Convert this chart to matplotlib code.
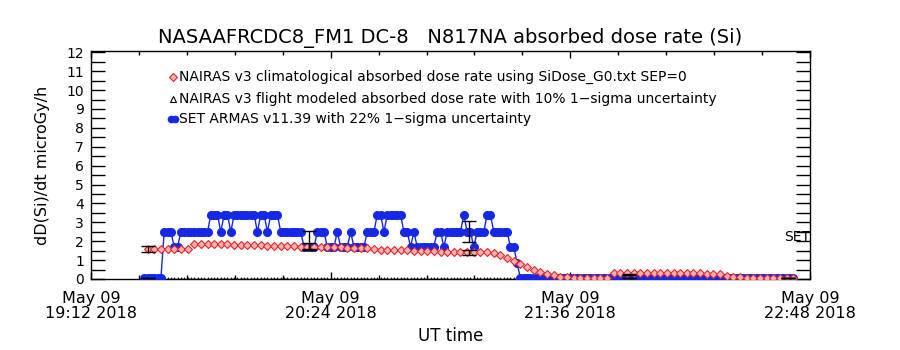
import numpy as np
import matplotlib
matplotlib.use("Agg")
import matplotlib.pyplot as plt
import matplotlib.dates as mdates
from matplotlib.ticker import FixedLocator, MultipleLocator
from datetime import datetime, timedelta

# ---------------- data (minutes after 2018-05-09 19:12 UT) ----------------
base_time = datetime(2018, 5, 9, 19, 12)

# SET ARMAS v11.39 absorbed dose rate, one value per minute starting at minute 16
set_start_min = 16
set_armas = [
    0.05, 0.05, 0.05, 0.05, 0.05, 0.05,
    2.5, 2.5, 2.5,
    1.7, 1.7,
    2.5, 2.5, 2.5, 2.5, 2.5, 2.5, 2.5, 2.5, 2.5,
    3.4, 3.4, 3.4, 2.5, 3.4, 3.4, 2.5,
    3.4, 3.4, 3.4, 3.4, 3.4, 3.4, 3.4, 2.5,
    3.4, 3.4, 2.5, 3.4, 3.4, 3.4,
    2.5, 2.5, 2.5, 2.5, 2.5, 2.5, 2.5,
    1.7, 1.7, 1.7, 1.7,
    2.5, 2.5, 2.5,
    1.7, 1.7, 1.7, 2.5, 1.7, 1.7, 1.7, 2.5,
    1.7, 1.7, 1.7, 1.7,
    2.5, 2.5, 2.5,
    3.4, 3.4, 2.5, 3.4, 3.4, 3.4, 3.4, 3.4,
    2.5, 2.5, 1.7, 2.5,
    1.7, 1.7, 1.7, 1.7, 1.7, 1.7,
    2.5, 2.5, 1.7,
    2.5, 2.5, 2.5, 2.5, 2.5, 3.4, 2.5, 2.5, 1.7, 2.5, 2.5, 2.5,
    3.4, 3.4,
    2.5, 2.5, 2.5, 2.5, 2.5,
    1.7, 1.7, 0.85,
    0.05, 0.05, 0.05, 0.05, 0.05, 0.05, 0.05, 0.05, 0.05, 0.05,
    0.05, 0.05, 0.05, 0.05, 0.05, 0.05, 0.05, 0.05, 0.05, 0.05,
    0.05, 0.05, 0.05, 0.05, 0.05, 0.05, 0.05, 0.05, 0.05, 0.05,
    0.05, 0.05, 0.05, 0.05, 0.05, 0.05, 0.05, 0.05, 0.05, 0.05,
    0.05, 0.05, 0.05, 0.05, 0.05, 0.05, 0.05, 0.05, 0.05, 0.05,
    0.05, 0.05, 0.05, 0.05, 0.05, 0.05, 0.05, 0.05, 0.05, 0.05,
    0.05, 0.05, 0.05, 0.05, 0.05, 0.05, 0.05, 0.05, 0.05, 0.05,
    0.05, 0.05, 0.05, 0.05, 0.05, 0.05, 0.05, 0.05, 0.05, 0.05,
    0.05, 0.05, 0.05,
]

# NAIRAS v3 climatological dose rate, one value every 2 minutes starting at minute 17
nairas_clim_start_min = 17
nairas_clim = [
    1.6, 1.6, 1.6, 1.6, 1.6, 1.6, 1.6,
    1.84, 1.84, 1.84, 1.84, 1.84, 1.84,
    1.80, 1.80, 1.79, 1.78, 1.78, 1.77, 1.77, 1.76,
    1.75, 1.74, 1.72,
    1.70, 1.69, 1.68, 1.68, 1.67, 1.67, 1.66, 1.65, 1.64, 1.62,
    1.58, 1.56, 1.55, 1.54, 1.54, 1.53,
    1.50, 1.48, 1.47, 1.46, 1.45, 1.45, 1.44, 1.44, 1.43, 1.43, 1.42, 1.42,
    1.38, 1.28, 1.10, 0.95, 0.80, 0.62, 0.48, 0.36, 0.26, 0.20, 0.13, 0.09, 0.07,
    0.06, 0.06, 0.06, 0.06, 0.06,
    0.30, 0.31, 0.30, 0.30, 0.31, 0.30, 0.30, 0.31, 0.30, 0.30, 0.31, 0.30, 0.30, 0.30, 0.29, 0.29,
    0.25, 0.18, 0.12, 0.09,
    0.07, 0.07, 0.07, 0.07, 0.07, 0.07, 0.07, 0.07,
]

# NAIRAS v3 flight modeled dose rate (plotted at zero), one per minute from minute 16
nairas_flight_start_min = 16
nairas_flight = [0.0] * 196

# error bars (every 48 min)
err_minutes = [17, 65.5, 113.5, 161.5, 209.5]
err_nairas_vals = [1.6, 1.72, 1.4, 0.25, 0.07]
err_nairas_frac = 0.10
err_set_vals = [0.05, 2.07, 2.5, 0.05, 0.05]
err_set_frac = 0.22

x_start_min = 0
x_end_min = 216
major_tick_min = [0, 72, 144, 216]

title = "NASAAFRCDC8_FM1 DC-8   N817NA absorbed dose rate (Si)"
ylabel = "dD(Si)/dt microGy/h"
xlabel = "UT time"
legend_labels = [
    "NAIRAS v3 climatological absorbed dose rate using SiDose_G0.txt SEP=0",
    "NAIRAS v3 flight modeled absorbed dose rate with 10% 1\u2212sigma uncertainty",
    "SET ARMAS v11.39 with 22% 1\u2212sigma uncertainty",
]


def to_time(minutes):
    return [base_time + timedelta(minutes=float(m)) for m in minutes]


set_t = to_time(np.arange(len(set_armas)) + set_start_min)
clim_t = to_time(np.arange(len(nairas_clim)) * 2 + nairas_clim_start_min)
flight_t = to_time(np.arange(len(nairas_flight)) + nairas_flight_start_min)
err_t = to_time(err_minutes)

# ---------------- figure ----------------
plt.rcParams['font.family'] = ['DejaVu Sans']
fig = plt.figure(figsize=(9, 3.5), dpi=100)
ax = fig.add_axes([91 / 900, 1 - 279 / 350, 719 / 900, 228 / 350])

BLUE = '#1428e6'
RED = '#e0262a'

ax.plot(flight_t, nairas_flight, linestyle='none', marker='^', markersize=2.5,
        markerfacecolor='none', markeredgecolor='black', markeredgewidth=0.6, zorder=2)
ax.plot(set_t, set_armas, color=BLUE, linewidth=1.0, marker='o', markersize=5.5,
        markerfacecolor=BLUE, markeredgecolor=BLUE, zorder=3)
ax.plot(clim_t, nairas_clim, linestyle='none', marker='D', markersize=3.6,
        markerfacecolor='#f2b0b0', markeredgecolor=RED, markeredgewidth=0.8, zorder=4)

ax.errorbar(err_t, err_set_vals, yerr=np.array(err_set_vals) * err_set_frac,
            fmt='none', ecolor='black', elinewidth=1.0, capsize=5, capthick=1.0, zorder=5)
ax.errorbar(err_t, err_nairas_vals, yerr=np.array(err_nairas_vals) * err_nairas_frac,
            fmt='none', ecolor='black', elinewidth=1.0, capsize=5, capthick=1.0, zorder=5)

ax.text(base_time + timedelta(minutes=208.3), 2.2, "SET", fontsize=10,
        ha='left', va='center', color='black', zorder=6)

# axes limits and ticks
ax.set_xlim(to_time([x_start_min])[0], to_time([x_end_min])[0])
ax.set_ylim(0, 12.07)

major_locs = mdates.date2num(to_time(major_tick_min))
minor_locs = mdates.date2num(to_time(np.arange(0, 216.01, 14.4)))
ax.xaxis.set_major_locator(FixedLocator(major_locs))
ax.xaxis.set_minor_locator(FixedLocator(minor_locs))
ax.xaxis.set_major_formatter(mdates.DateFormatter('%b %d\n%H:%M %Y'))

ax.set_yticks(np.arange(0, 13, 1))
ax.yaxis.set_minor_locator(MultipleLocator(0.5))

ax.tick_params(axis='x', which='major', direction='in', top=True, bottom=True,
               length=5, width=1, labelsize=11.5, pad=9)
ax.tick_params(axis='x', which='minor', direction='in', top=True, bottom=True,
               length=3, width=1)
ax.tick_params(axis='y', which='both', direction='in', left=True, right=True,
               length=10, width=1)
ax.tick_params(axis='y', which='major', labelsize=10, pad=5)

for lbl in ax.get_xticklabels():
    lbl.set_linespacing(1.0)

for s in ax.spines.values():
    s.set_linewidth(1.0)
    s.set_color('black')

ax.set_ylabel(ylabel, fontsize=11.5, labelpad=12)
ax.set_xlabel(xlabel, fontsize=12, labelpad=4)
fig.text(0.5, 1 - 38 / 350, title, fontsize=14, ha='center', va='center')

# legend drawn inside the axes
leg_y = [0.886, 0.789, 0.702]
mx = 0.114
tx = 0.1224
ax.plot([mx], [leg_y[0]], transform=ax.transAxes, marker='D', markersize=3.6,
        markerfacecolor='#f2b0b0', markeredgecolor=RED, markeredgewidth=0.8, linestyle='none')
ax.plot([mx], [leg_y[1]], transform=ax.transAxes, marker='^', markersize=4.5,
        markerfacecolor='none', markeredgecolor='black', markeredgewidth=0.8, linestyle='none')
ax.plot([mx - 0.003, mx + 0.003], [leg_y[2], leg_y[2]], transform=ax.transAxes, marker='o',
        markersize=4.5, color=BLUE, linewidth=1)
for y, lab in zip(leg_y, legend_labels):
    ax.text(tx, y, lab, transform=ax.transAxes, fontsize=10, ha='left', va='center')

fig.savefig('out.png', dpi=100)
